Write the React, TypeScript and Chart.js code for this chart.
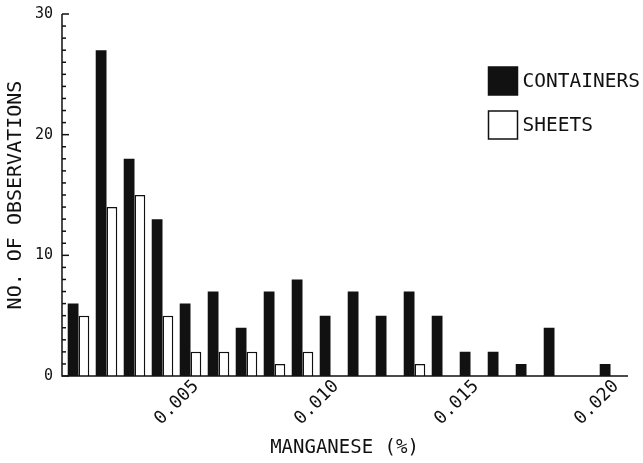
import React, { useEffect, useRef } from 'react';
import { Chart, registerables } from 'chart.js';

Chart.register(...registerables);

const manganese = [
  '0.001', '0.002', '0.003', '0.004', '0.005', '0.006', '0.007', '0.008', '0.009', '0.010',
  '0.011', '0.012', '0.013', '0.014', '0.015', '0.016', '0.017', '0.018', '0.019', '0.020',
];
const containers = [6, 27, 18, 13, 6, 7, 4, 7, 8, 5, 7, 5, 7, 5, 2, 2, 1, 4, 0, 1];
const sheets = [5, 14, 15, 5, 2, 2, 2, 1, 2, 0, 0, 0, 1, 0, 0, 0, 0, 0, 0, 0];
const xTickLabels = ['0.005', '0.010', '0.015', '0.020'];
const yTickLabels = [0, 10, 20, 30];

const FONT = "'DejaVu Sans Mono', monospace";
const INK = '#111';
const AXIS_GAP = 2.5;

const axesAndTicks = {
  id: 'axesAndTicks',
  afterDraw(chart: any) {
    const { ctx, chartArea, scales } = chart;
    const y = scales.y;
    const x0 = chartArea.left - AXIS_GAP;
    ctx.save();
    ctx.strokeStyle = INK;
    ctx.lineWidth = 1.5;
    ctx.beginPath();
    ctx.moveTo(x0, chartArea.top);
    ctx.lineTo(x0, chartArea.bottom);
    ctx.lineTo(chartArea.right + 3.5, chartArea.bottom);
    ctx.stroke();
    y.ticks.forEach((t: any) => {
      const py = y.getPixelForValue(t.value);
      const len = yTickLabels.includes(t.value) ? 7 : 4;
      ctx.beginPath();
      ctx.moveTo(x0, py);
      ctx.lineTo(x0 + len, py);
      ctx.stroke();
    });
    ctx.restore();
  },
};

const boxLegend = {
  id: 'boxLegend',
  afterDraw(chart: any) {
    const { ctx, chartArea } = chart;
    const left = chartArea.right - 136;
    let top = chartArea.top + 53;
    ctx.save();
    ctx.font = `19.5px ${FONT}`;
    ctx.textBaseline = 'middle';
    ctx.textAlign = 'left';
    chart.data.datasets.forEach((ds: any) => {
      ctx.fillStyle = ds.backgroundColor;
      ctx.fillRect(left, top, 29, 28);
      ctx.strokeStyle = INK;
      ctx.lineWidth = 1.5;
      ctx.strokeRect(left, top, 29, 28);
      ctx.fillStyle = INK;
      ctx.fillText(ds.label, left + 34, top + 15);
      top += 44;
    });
    ctx.restore();
  },
};

export default function App() {
  const ref = useRef<HTMLCanvasElement | null>(null);
  useEffect(() => {
    if (!ref.current) return;
    const chart = new Chart(ref.current, {
      type: 'bar',
      data: {
        labels: manganese,
        datasets: [
          {
            label: 'CONTAINERS',
            data: containers,
            backgroundColor: INK,
            borderColor: INK,
            borderWidth: 0,
            categoryPercentage: 0.77,
            barPercentage: 1.0,
          },
          {
            label: 'SHEETS',
            data: sheets,
            backgroundColor: '#ffffff',
            borderColor: INK,
            borderWidth: 1.5,
            categoryPercentage: 0.77,
            barPercentage: 1.0,
          },
        ],
      },
      options: {
        animation: false,
        responsive: false,
        layout: { padding: { left: 4, top: 14, right: 18.5, bottom: 4 } },
        plugins: {
          legend: { display: false },
          tooltip: { enabled: false },
        },
        scales: {
          x: {
            grid: { display: false, drawTicks: false },
            border: { display: false },
            afterFit: (s: any) => {
              s.height = 83;
              s.paddingLeft = 0;
              s.paddingRight = 0;
            },
            ticks: {
              autoSkip: false,
              minRotation: 45,
              maxRotation: 45,
              labelOffset: 5.5,
              padding: 0,
              color: INK,
              font: { family: FONT, size: 18 },
              callback: (_v: any, i: number) =>
                xTickLabels.includes(manganese[i]) ? manganese[i] : '',
            },
            title: {
              display: true,
              text: 'MANGANESE (%)',
              color: INK,
              font: { family: FONT, size: 19 },
              padding: { top: 0, bottom: 0 },
            },
          },
          y: {
            min: 0,
            max: 30,
            grid: { display: false, drawTicks: false },
            border: { display: false },
            afterFit: (s: any) => {
              s.width = 60.5;
              s.paddingTop = 0;
              s.paddingBottom = 0;
            },
            ticks: {
              stepSize: 1,
              autoSkip: false,
              padding: 11.5,
              color: INK,
              font: { family: FONT, size: 15 },
              callback: (v: any) => (yTickLabels.includes(v) ? String(v) : ''),
            },
            title: {
              display: true,
              text: 'NO. OF OBSERVATIONS',
              color: INK,
              font: { family: FONT, size: 20 },
              padding: { top: 0, bottom: 0 },
            },
          },
        },
      },
      plugins: [axesAndTicks, boxLegend],
    });
    return () => chart.destroy();
  }, []);
  return (
    <div style={{ position: 'absolute', left: 0, top: 0, width: 643, height: 463, background: '#fff' }}>
      <canvas ref={ref} width={643} height={463} />
    </div>
  );
}
